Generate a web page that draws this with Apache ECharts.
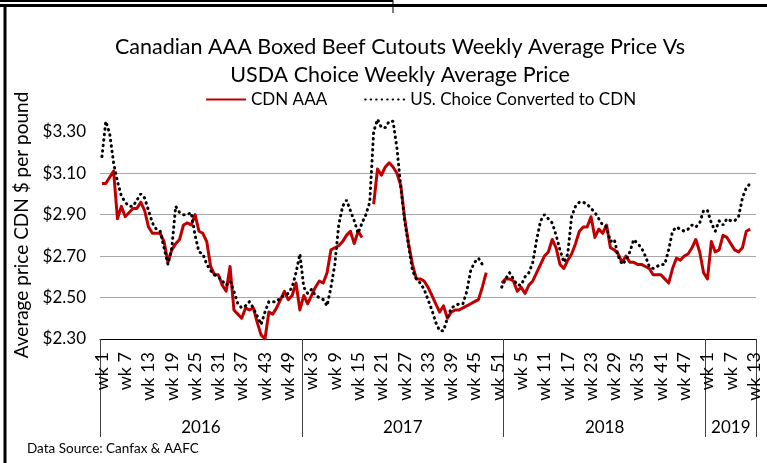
<!DOCTYPE html>
<html>
<head>
<meta charset="utf-8">
<script src="https://cdn.jsdelivr.net/npm/echarts@6.0.0/dist/echarts.min.js"></script>
<style>
html,body{margin:0;padding:0;background:#fff;}
#main{width:767px;height:463px;}
</style>
</head>
<body>
<div id="main"></div>
<script>
var years = ['2016','2017','2018','2019'];
var weeksInYear = [52,52,52,13];
var yTicks = [2.30,2.50,2.70,2.90,3.10,3.30];
var gridValues = [2.50,2.70,2.90,3.10];

// CDN AAA, weekly (null = no report)
var cdn2016 = [3.05,3.05,3.08,3.11,2.88,2.94,2.89,2.91,2.93,2.93,2.96,2.92,2.84,2.81,2.81,2.81,2.77,2.67,2.73,2.76,
	2.78,2.85,2.86,2.85,2.90,2.82,2.81,2.77,2.65,2.61,2.61,2.56,2.53,2.65,2.44,2.42,2.40,2.45,2.44,2.45,
	2.38,2.32,2.30,2.43,2.42,2.45,2.49,2.53,2.49,2.51,2.57,2.44];
var cdn2017 = [2.51,2.47,2.51,2.55,2.58,2.57,2.62,2.73,2.74,2.75,2.77,2.80,2.82,2.76,2.82,2.79,null,null,2.95,3.12,
	3.09,3.13,3.15,3.13,3.10,3.04,2.88,2.76,2.66,2.59,2.59,2.58,2.55,2.51,2.47,2.43,2.46,2.40,2.43,2.44,
	2.44,2.45,2.46,2.47,2.48,2.49,2.55,2.62,null,null,null,2.57];
var cdn2018 = [2.59,2.59,2.58,2.53,2.55,2.52,2.56,2.58,2.62,2.66,2.70,2.72,2.78,2.74,2.66,2.64,2.68,2.71,2.76,2.82,
	2.84,2.84,2.89,2.79,2.83,2.81,2.85,2.74,2.73,2.71,2.67,2.70,2.67,2.67,2.66,2.66,2.65,2.64,2.61,2.61,
	2.61,2.59,2.57,2.64,2.69,2.68,2.70,2.71,2.74,2.78,2.72,2.62];
var cdn2019 = [2.59,2.77,2.72,2.73,2.80,2.79,2.76,2.73,2.72,2.74,2.82,2.83,null];

// US Choice converted to CDN, weekly
var us2016 = [3.18,3.35,3.29,3.15,3.06,2.99,2.96,2.94,2.94,2.97,3.00,2.98,2.92,2.86,2.83,2.82,2.74,2.66,2.74,2.94,
	2.91,2.90,2.90,2.91,2.80,2.72,2.71,2.66,2.63,2.61,2.60,2.58,2.56,2.58,2.53,2.47,2.45,2.46,2.48,2.45,
	2.41,2.37,2.43,2.48,2.48,2.48,2.50,2.51,2.52,2.55,2.62,2.71];
var us2017 = [2.55,2.52,2.54,2.51,2.50,2.49,2.46,2.55,2.66,2.85,2.94,2.97,2.92,2.87,2.81,2.86,2.90,2.96,3.30,3.36,
	3.32,3.32,3.35,3.35,3.22,3.03,2.87,2.75,2.63,2.59,2.57,2.54,2.49,2.44,2.38,2.34,2.34,2.40,2.45,2.46,
	2.47,2.47,2.53,2.63,2.67,2.69,2.66,2.66,null,null,null,2.55];
var us2018 = [2.59,2.62,2.59,2.56,2.56,2.60,2.62,2.67,2.78,2.87,2.90,2.88,2.86,2.80,2.73,2.67,2.71,2.89,2.94,2.96,
	2.96,2.95,2.93,2.91,2.88,2.85,2.84,2.77,2.78,2.70,2.66,2.68,2.72,2.78,2.76,2.74,2.70,2.65,2.64,2.65,
	2.66,2.66,2.73,2.82,2.84,2.83,2.82,2.83,2.85,2.84,2.86,2.92];
var us2019 = [2.92,2.86,2.82,2.87,2.85,2.88,2.87,2.87,2.89,2.98,3.03,3.05,null];

var cdnAAA = cdn2016.concat(cdn2017,cdn2018,cdn2019);
var usChoice = us2016.concat(us2017,us2018,us2019);

var weeks = [];
var bounds = [0];
var mids = [];
var total = 0;
for(var y=0;y<years.length;y++){
	for(var w=1;w<=weeksInYear[y];w++){
		weeks.push('wk '+w);
	}
	mids.push(total+weeksInYear[y]/2);
	total+=weeksInYear[y];
	bounds.push(total);
}

// split lines only on the labelled gridlines
var splitColors = [];
for(var k=23;k<=34;k++){
	var on = false;
	for(var g=0;g<gridValues.length;g++){
		if(Math.round(gridValues[g]*10)==k) on = true;
	}
	splitColors.push(on ? '#a6a6a6' : 'rgba(0,0,0,0)');
}

function ylabel(v){
	var c = Math.round(v*100);
	for(var i=0;i<yTicks.length;i++){
		if(Math.round(yTicks[i]*100)==c) return '$'+v.toFixed(2);
	}
	return '';
}

var font = 'Lato';
var myChart = echarts.init(document.getElementById('main'));
var option = {
	backgroundColor:'#fff',
	animation:false,
	textStyle:{fontFamily:font},
	title:[{
		text:'Canadian AAA Boxed Beef Cutouts Weekly Average Price Vs\nUSDA Choice Weekly Average Price',
		left:395,
		top:28,
		textAlign:'center',
		textStyle:{fontFamily:font,fontSize:21.5,fontWeight:'normal',color:'#000',lineHeight:28}
	},{
		text:'Data Source: Canfax & AAFC',
		left:22,
		top:437,
		textStyle:{fontFamily:font,fontSize:13.5,fontWeight:'normal',color:'#000'}
	}],
	legend:{
		left:205,
		top:91,
		padding:0,
		itemWidth:40,
		itemHeight:12,
		itemGap:37,
		itemStyle:{color:'rgba(0,0,0,0)',borderWidth:0},
		textStyle:{fontFamily:font,fontSize:17,color:'#000'},
		data:['CDN AAA','US. Choice Converted to CDN']
	},
	grid:{left:100,right:11,top:111,bottom:124},
	xAxis:[{
		type:'category',
		data:weeks,
		boundaryGap:true,
		axisLine:{lineStyle:{color:'#000',width:1}},
		axisTick:{show:false},
		axisLabel:{interval:5,rotate:90,margin:13,fontFamily:font,fontSize:18,color:'#000'}
	},{
		type:'value',
		position:'bottom',
		min:0,
		max:total,
		axisLine:{show:false},
		splitLine:{show:false},
		axisTick:{show:true,customValues:bounds,length:98,lineStyle:{color:'#404040',width:1}},
		axisLabel:{
			customValues:mids,
			margin:80,
			fontFamily:font,
			fontSize:17,
			color:'#000',
			formatter:function(v){
				for(var i=0;i<mids.length;i++){
					if(Math.abs(mids[i]-v)<0.01) return years[i];
				}
				return '';
			}
		}
	}],
	yAxis:{
		type:'value',
		min:2.3,
		max:3.4,
		interval:0.1,
		name:'Average price CDN $ per pound',
		nameLocation:'middle',
		nameGap:62,
		nameTextStyle:{fontFamily:font,fontSize:19,color:'#000'},
		axisLine:{show:false},
		axisTick:{show:false},
		axisLabel:{margin:14,fontFamily:font,fontSize:17,color:'#000',formatter:ylabel},
		splitLine:{show:true,lineStyle:{color:splitColors,width:1}}
	},
	series:[{
		name:'CDN AAA',
		type:'line',
		data:cdnAAA,
		symbol:'none',
		connectNulls:false,
		lineStyle:{color:'#c00000',width:3,join:'round'},
		itemStyle:{color:'#c00000'}
	},{
		name:'US. Choice Converted to CDN',
		type:'line',
		data:usChoice,
		symbol:'none',
		connectNulls:false,
		lineStyle:{color:'#000',width:3,type:[0.5,5],cap:'round'},
		itemStyle:{color:'#000'}
	}],
	graphic:[
		{type:'line',shape:{x1:0,y1:1,x2:393,y2:1},style:{stroke:'#000',lineWidth:2}},
		{type:'line',shape:{x1:393,y1:0,x2:393,y2:13},style:{stroke:'#000',lineWidth:1}},
		{type:'line',shape:{x1:0,y1:5.5,x2:767,y2:5.5},style:{stroke:'#000',lineWidth:3}},
		{type:'line',shape:{x1:5,y1:5,x2:5,y2:463},style:{stroke:'#000',lineWidth:3}}
	]
};
myChart.setOption(option);
</script>
</body>
</html>
